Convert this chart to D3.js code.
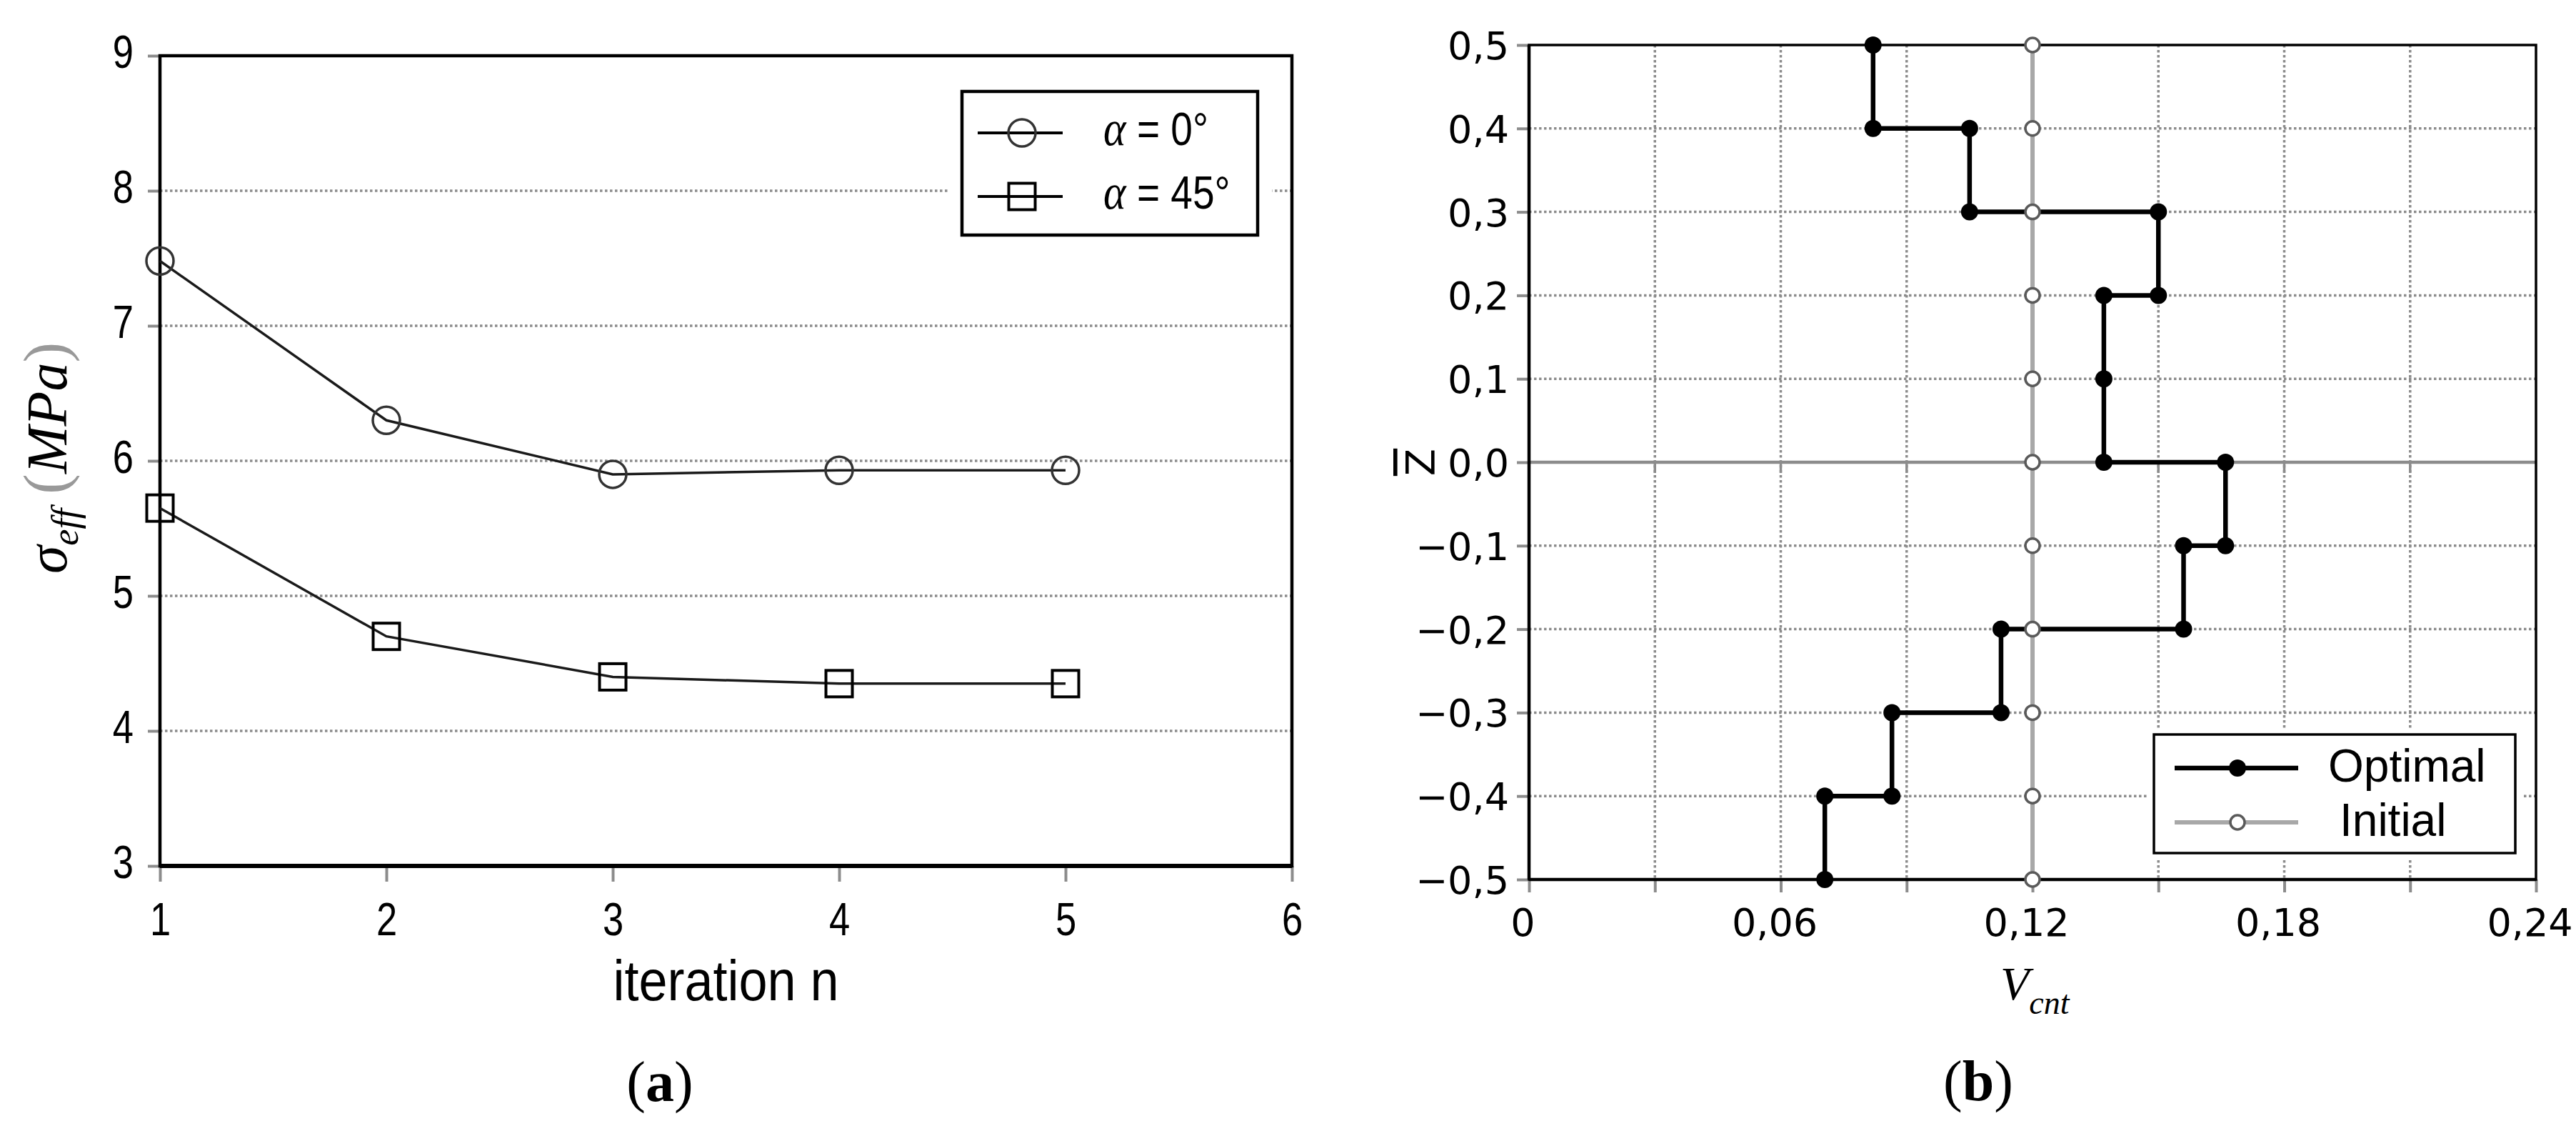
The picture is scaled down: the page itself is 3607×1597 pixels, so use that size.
<!DOCTYPE html>
<html>
<head>
<meta charset="utf-8">
<script src="https://cdn.jsdelivr.net/npm/d3@7"></script>
<style>
  body { margin: 0; background: #fff; }
  svg { display: block; }
</style>
</head>
<body>
<svg id="chart" width="3607" height="1597"></svg>
<script>
// (a) effective stress per iteration
var iterations = [1, 2, 3, 4, 5];
var sigmaAlpha0 = [7.48, 6.30, 5.90, 5.93, 5.93];
var sigmaAlpha45 = [5.65, 4.70, 4.40, 4.35, 4.35];
var iterTicks = [1, 2, 3, 4, 5, 6];
var iterTickLabels = ["1", "2", "3", "4", "5", "6"];
var sigmaTicks = [3, 4, 5, 6, 7, 8, 9];
var sigmaTickLabels = ["3", "4", "5", "6", "7", "8", "9"];
var legendAngles = ["0", "45"];

// (b) CNT volume fraction through the thickness
var optimalV = [0.082, 0.082, 0.105, 0.105, 0.150, 0.150, 0.137, 0.137, 0.137, 0.166, 0.166,
                0.156, 0.156, 0.1125, 0.1125, 0.0865, 0.0865, 0.0705, 0.0705];
var optimalZ = [0.5, 0.4, 0.4, 0.3, 0.3, 0.2, 0.2, 0.1, 0.0, 0.0, -0.1,
                -0.1, -0.2, -0.2, -0.3, -0.3, -0.4, -0.4, -0.5];
var initialV = [0.12, 0.12, 0.12, 0.12, 0.12, 0.12, 0.12, 0.12, 0.12, 0.12, 0.12];
var initialZ = [0.5, 0.4, 0.3, 0.2, 0.1, 0.0, -0.1, -0.2, -0.3, -0.4, -0.5];
var vTicks = [0, 0.03, 0.06, 0.09, 0.12, 0.15, 0.18, 0.21, 0.24];
var vTickLabels = ["0", "", "0,06", "", "0,12", "", "0,18", "", "0,24"];
var zTicks = [0.5, 0.4, 0.3, 0.2, 0.1, 0.0, -0.1, -0.2, -0.3, -0.4, -0.5];
var zTickLabels = ["0,5", "0,4", "0,3", "0,2", "0,1", "0,0", "−0,1", "−0,2", "−0,3", "−0,4", "−0,5"];
var legendNamesB = ["Optimal", "Initial"];

var GRID = "#8c8c8c";
var SANS = "'Liberation Sans', Arial, sans-serif";
var SERIF = "'Liberation Serif', 'Times New Roman', serif";
var DEJAVU = "'DejaVu Sans', Verdana, sans-serif";

var svg = d3.select("#chart");
svg.append("rect").attr("width", 3607).attr("height", 1597).attr("fill", "#fff");

function styleAxis(axis, font, size) {
  axis.select(".domain").remove();
  axis.selectAll(".tick line").attr("stroke", GRID).attr("stroke-width", 4);
  axis.selectAll(".tick text")
    .attr("fill", "#000")
    .style("font-family", font)
    .style("font-size", size + "px");
}

// squeeze text horizontally (the source font is a narrow one)
function narrowText(sel, k) {
  sel.each(function(){
    var t = d3.select(this);
    var x = +t.attr("x") || 0;
    t.attr("x", 0).attr("transform", "translate(" + x + ",0) scale(" + k + ",1)");
  });
}

// ================= panel (a) =================
var xA = d3.scaleLinear().domain([1, 6]).range([224, 1809]);
var yA = d3.scaleLinear().domain([3, 9]).range([1212, 78]);
var gA = svg.append("g");

gA.append("g").selectAll("line")
  .data(sigmaTicks.filter(function(d){ return d > 3 && d < 9; }))
  .enter().append("line")
  .attr("x1", xA(1)).attr("x2", xA(6))
  .attr("y1", function(d){ return yA(d); })
  .attr("y2", function(d){ return yA(d); })
  .attr("stroke", GRID).attr("stroke-width", 3.5).attr("stroke-dasharray", "3.5 3.5");

var yAxisA = gA.append("g")
  .attr("transform", "translate(" + xA(1) + ",0)")
  .call(d3.axisLeft(yA).tickValues(sigmaTicks).tickSize(17).tickSizeOuter(0).tickPadding(20)
    .tickFormat(function(d, i){ return sigmaTickLabels[i]; }));
styleAxis(yAxisA, SANS, 64);
yAxisA.selectAll(".tick text").attr("dy", "0.25em");
narrowText(yAxisA.selectAll(".tick text"), 0.82);

var xAxisA = gA.append("g")
  .attr("transform", "translate(0," + yA(3) + ")")
  .call(d3.axisBottom(xA).tickValues(iterTicks).tickSize(22).tickSizeOuter(0).tickPadding(29)
    .tickFormat(function(d, i){ return iterTickLabels[i]; }));
styleAxis(xAxisA, SANS, 64);
xAxisA.selectAll(".tick text").attr("dy", "0.72em");
narrowText(xAxisA.selectAll(".tick text"), 0.82);

// frame
gA.append("rect")
  .attr("x", xA(1)).attr("y", yA(9))
  .attr("width", xA(6) - xA(1)).attr("height", yA(3) - yA(9))
  .attr("fill", "none").attr("stroke", "#000").attr("stroke-width", 4.5);
gA.append("line")
  .attr("x1", xA(1)).attr("x2", xA(6)).attr("y1", yA(3)).attr("y2", yA(3))
  .attr("stroke", "#000").attr("stroke-width", 6);

var seriesA = [
  { id: "a0", marker: "circle", values: d3.zip(iterations, sigmaAlpha0) },
  { id: "a45", marker: "square", values: d3.zip(iterations, sigmaAlpha45) }
];

var lineA = d3.line()
  .x(function(d){ return xA(d[0]); })
  .y(function(d){ return yA(d[1]); });

function drawMarker(g, type, cx, cy) {
  if (type == "circle") {
    g.append("circle").attr("cx", cx).attr("cy", cy).attr("r", 19)
      .attr("fill", "none").attr("stroke", "#333").attr("stroke-width", 3.5);
  } else {
    g.append("rect").attr("x", cx - 18.5).attr("y", cy - 18.5).attr("width", 37).attr("height", 37)
      .attr("fill", "none").attr("stroke", "#000").attr("stroke-width", 4);
  }
}

seriesA.forEach(function(s){
  var g = gA.append("g").attr("class", s.id);
  g.append("path")
    .attr("d", lineA(s.values))
    .attr("fill", "none").attr("stroke", "#1a1a1a").attr("stroke-width", 3.5);
  s.values.forEach(function(d){ drawMarker(g, s.marker, xA(d[0]), yA(d[1])); });
});

// legend (a)
var legA = gA.append("g");
legA.append("rect").attr("x", 1328).attr("y", 110).attr("width", 453).attr("height", 238).attr("fill", "#fff");
legA.append("rect").attr("x", 1347).attr("y", 128).attr("width", 414).attr("height", 201)
  .attr("fill", "none").attr("stroke", "#000").attr("stroke-width", 4.5);

seriesA.forEach(function(s, i){
  var ry = 186 + i * 89;
  legA.append("line").attr("x1", 1369).attr("x2", 1488).attr("y1", ry).attr("y2", ry)
    .attr("stroke", "#000").attr("stroke-width", 4);
  drawMarker(legA, s.marker, 1431, ry);
  var t = legA.append("text")
    .attr("transform", "translate(1545," + (ry + 17) + ") scale(0.86,1)")
    .style("font-family", SANS).style("font-size", "64px");
  t.append("tspan").style("font-family", SERIF).style("font-style", "italic").style("font-size", "70px").text("α");
  t.append("tspan").text(" = " + legendAngles[i]);
  t.append("tspan").text("°");
});

// axis titles (a)
gA.append("text")
  .attr("transform", "translate(" + ((xA(1) + xA(6)) / 2) + ",1400) scale(0.9,1)")
  .attr("text-anchor", "middle")
  .style("font-family", SANS).style("font-size", "80px")
  .text("iteration n");

var yTitleA = gA.append("text")
  .attr("transform", "translate(93,641) rotate(-90)")
  .attr("text-anchor", "middle")
  .style("font-family", SERIF).style("font-size", "80px");
yTitleA.append("tspan").style("font-style", "italic").text("σ");
yTitleA.append("tspan").style("font-style", "italic").style("font-size", "52px").attr("dy", 16).text("eff");
yTitleA.append("tspan").attr("dy", -16).text(" ");
yTitleA.append("tspan").attr("fill", "#999").style("font-size", "86px").text("(");
yTitleA.append("tspan").style("font-style", "italic").text("MPa");
yTitleA.append("tspan").attr("fill", "#999").style("font-size", "86px").text(")");

var capA = svg.append("text")
  .attr("x", 924).attr("y", 1541)
  .attr("text-anchor", "middle")
  .style("font-family", SERIF).style("font-size", "80px");
capA.append("tspan").text("(");
capA.append("tspan").style("font-weight", "bold").text("a");
capA.append("tspan").text(")");

// ================= panel (b) =================
var xB = d3.scaleLinear().domain([0, 0.24]).range([2141, 3551]);
var yB = d3.scaleLinear().domain([-0.5, 0.5]).range([1231, 63]);
var gB = svg.append("g");

gB.append("g").selectAll("line")
  .data(vTicks.filter(function(d){ return d > 0 && d < 0.24; }))
  .enter().append("line")
  .attr("x1", function(d){ return xB(d); })
  .attr("x2", function(d){ return xB(d); })
  .attr("y1", yB(0.5)).attr("y2", yB(-0.5))
  .attr("stroke", GRID).attr("stroke-width", 3.5).attr("stroke-dasharray", "3.5 3.5");

gB.append("g").selectAll("line")
  .data(zTicks.filter(function(d){ return Math.abs(d) < 0.5 && d != 0; }))
  .enter().append("line")
  .attr("x1", xB(0)).attr("x2", xB(0.24))
  .attr("y1", function(d){ return yB(d); })
  .attr("y2", function(d){ return yB(d); })
  .attr("stroke", GRID).attr("stroke-width", 3.5).attr("stroke-dasharray", "3.5 3.5");

// zero line with its small ticks
gB.append("line")
  .attr("x1", xB(0)).attr("x2", xB(0.24)).attr("y1", yB(0)).attr("y2", yB(0))
  .attr("stroke", GRID).attr("stroke-width", 4.5);
gB.append("g").selectAll("line")
  .data(vTicks.filter(function(d){ return d > 0 && d < 0.24; }))
  .enter().append("line")
  .attr("x1", function(d){ return xB(d); })
  .attr("x2", function(d){ return xB(d); })
  .attr("y1", yB(0)).attr("y2", yB(0) + 15)
  .attr("stroke", GRID).attr("stroke-width", 3.5);

var yAxisB = gB.append("g")
  .attr("transform", "translate(" + xB(0) + ",0)")
  .call(d3.axisLeft(yB).tickValues(zTicks).tickSize(17).tickSizeOuter(0).tickPadding(11)
    .tickFormat(function(d, i){ return zTickLabels[i]; }));
styleAxis(yAxisB, DEJAVU, 54);
yAxisB.selectAll(".tick text").attr("dy", "0.36em");

var xAxisB = gB.append("g")
  .attr("transform", "translate(0," + yB(-0.5) + ")")
  .call(d3.axisBottom(xB).tickValues(vTicks).tickSize(18).tickSizeOuter(0).tickPadding(22)
    .tickFormat(function(d, i){ return vTickLabels[i]; }));
styleAxis(xAxisB, DEJAVU, 54);
xAxisB.selectAll(".tick text").attr("dy", "0.73em").attr("dx", -9);

// frame
gB.append("rect")
  .attr("x", xB(0)).attr("y", yB(0.5))
  .attr("width", xB(0.24) - xB(0)).attr("height", yB(-0.5) - yB(0.5))
  .attr("fill", "none").attr("stroke", "#000").attr("stroke-width", 3.5);
gB.append("line")
  .attr("x1", xB(0)).attr("x2", xB(0)).attr("y1", yB(0.5)).attr("y2", yB(-0.5))
  .attr("stroke", "#000").attr("stroke-width", 4.5);
gB.append("line")
  .attr("x1", xB(0)).attr("x2", xB(0.24)).attr("y1", yB(-0.5)).attr("y2", yB(-0.5))
  .attr("stroke", "#000").attr("stroke-width", 4.5);

var lineB = d3.line()
  .x(function(d){ return xB(d[0]); })
  .y(function(d){ return yB(d[1]); });

var seriesB = [
  { name: legendNamesB[0], values: d3.zip(optimalV, optimalZ), color: "#000", width: 6.5,
    r: 12, fill: "#000", stroke: "#000", sw: 0, indent: 0 },
  { name: legendNamesB[1], values: d3.zip(initialV, initialZ), color: "#a8a8a8", width: 6,
    r: 10, fill: "#fff", stroke: "#5a5a5a", sw: 3.5, indent: 16 }
];

seriesB.forEach(function(s){
  var g = gB.append("g");
  g.append("path")
    .attr("d", lineB(s.values))
    .attr("fill", "none").attr("stroke", s.color).attr("stroke-width", s.width)
    .attr("stroke-linejoin", "miter");
  g.selectAll("circle")
    .data(s.values)
    .enter().append("circle")
    .attr("cx", function(d){ return xB(d[0]); })
    .attr("cy", function(d){ return yB(d[1]); })
    .attr("r", s.r)
    .attr("fill", s.fill).attr("stroke", s.stroke).attr("stroke-width", s.sw);
});

// legend (b)
var legB = gB.append("g");
legB.append("rect").attr("x", 3007).attr("y", 1020).attr("width", 524).attr("height", 182).attr("fill", "#fff");
legB.append("rect").attr("x", 3016).attr("y", 1028).attr("width", 506).attr("height", 166)
  .attr("fill", "none").attr("stroke", "#000").attr("stroke-width", 3.5);

seriesB.forEach(function(s, i){
  var ry = 1075 + i * 76;
  legB.append("line").attr("x1", 3045).attr("x2", 3218).attr("y1", ry).attr("y2", ry)
    .attr("stroke", s.color).attr("stroke-width", s.width);
  legB.append("circle").attr("cx", 3133).attr("cy", ry).attr("r", s.r)
    .attr("fill", s.fill).attr("stroke", s.stroke).attr("stroke-width", s.sw);
  legB.append("text")
    .attr("x", 3260 + s.indent).attr("y", ry + 19)
    .style("font-family", SANS).style("font-size", "64px")
    .text(s.name);
});

// axis titles (b)
var xTitleB = gB.append("text")
  .attr("x", 2801).attr("y", 1399)
  .style("font-family", SERIF).style("font-style", "italic").style("font-size", "66px");
xTitleB.append("tspan").text("V");
xTitleB.append("tspan").style("font-size", "46px").attr("dy", 20).text("cnt");

gB.append("text")
  .attr("transform", "translate(2008,647) rotate(-90)")
  .attr("text-anchor", "middle")
  .style("font-family", DEJAVU).style("font-size", "56px")
  .style("text-decoration", "overline")
  .text("Z");

var capB = svg.append("text")
  .attr("x", 2770).attr("y", 1540)
  .attr("text-anchor", "middle")
  .style("font-family", SERIF).style("font-size", "80px");
capB.append("tspan").text("(");
capB.append("tspan").style("font-weight", "bold").text("b");
capB.append("tspan").text(")");
</script>
</body>
</html>
